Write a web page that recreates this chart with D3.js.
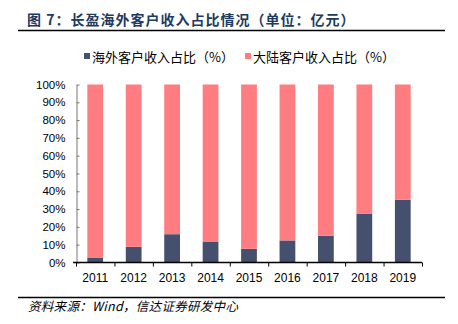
<!DOCTYPE html>
<html>
<head>
<meta charset="utf-8">
<script src="https://cdn.jsdelivr.net/npm/d3@7"></script>
<style>
  body { margin: 0; background: #fff; }
  svg text { font-family: "Liberation Sans", Arial, "Noto Sans CJK SC", sans-serif; }
</style>
</head>
<body>
<svg id="chart" width="458" height="324"></svg>
<script>
// chart data
let years = ["2011", "2012", "2013", "2014", "2015", "2016", "2017", "2018", "2019"];
let overseas = [2.8, 8.8, 15.9, 11.8, 7.7, 12.4, 15.0, 27.3, 35.2];
let mainland = overseas.map(v => 100 - v);
let yTicks = [0, 10, 20, 30, 40, 50, 60, 70, 80, 90, 100];
let seriesNames = ["海外客户收入占比（%）", "大陆客户收入占比（%）"];
let colors = ["#454f6e", "#ff7c80"];

let svg = d3.select("#chart");
let cjk = "'Noto Sans CJK SC', sans-serif";

// title + rules
svg.append("text")
    .attr("x", 27).attr("y", 25)
    .attr("font-size", 14).attr("font-weight", "bold")
    .attr("letter-spacing", 1)
    .attr("fill", "#1f3a60")
    .style("font-family", cjk)
    .text("图 7：长盈海外客户收入占比情况（单位：亿元）");
svg.append("line").attr("x1", 18).attr("x2", 445).attr("y1", 30.5).attr("y2", 30.5)
    .attr("stroke", "#000").attr("stroke-width", 1.3);
svg.append("line").attr("x1", 18).attr("x2", 445).attr("y1", 297.5).attr("y2", 297.5)
    .attr("stroke", "#000").attr("stroke-width", 1.3);
svg.append("text")
    .attr("x", 28).attr("y", 311)
    .attr("font-size", 12.5).attr("font-style", "italic")
    .attr("letter-spacing", 0.3)
    .style("font-family", cjk)
    .text("资料来源：Wind，信达证券研发中心");

// scales
let x = d3.scaleBand().domain(years).range([76, 422]).paddingInner(0.59).paddingOuter(0.295);
let y = d3.scaleLinear().domain([0, 100]).range([262.5, 84.5]);

// stacked bars
let rows = years.map((yr, i) => ({ year: yr, a: overseas[i], b: mainland[i] }));
let stack = d3.stack().keys(["a", "b"])(rows);

svg.selectAll(".series")
    .data(stack)
    .enter().append("g")
    .attr("fill", (d, i) => colors[i])
    .selectAll("rect")
    .data(d => d)
    .enter().append("rect")
    .attr("x", d => x(d.data.year))
    .attr("width", x.bandwidth())
    .attr("y", d => y(d[1]))
    .attr("height", d => y(d[0]) - y(d[1]));

// y axis, ticks point inward
let yAxis = svg.append("g")
    .attr("transform", "translate(76.5,0)")
    .call(d3.axisLeft(y).tickValues(yTicks).tickFormat(d => d + "%")
        .tickSize(-3).tickSizeOuter(0).tickPadding(11));
yAxis.select(".domain").attr("stroke", "#777");
yAxis.selectAll(".tick line").attr("stroke", "#777");
yAxis.selectAll("text").attr("font-size", 11.5).attr("fill", "#000");

// x axis with ticks between categories
let xAxis = svg.append("g").attr("transform", "translate(0,262.5)");
xAxis.append("line").attr("x1", 73).attr("x2", 422).attr("stroke", "#000").attr("stroke-width", 1.3);
let step = x.step();
xAxis.selectAll(".sep")
    .data(d3.range(years.length + 1))
    .enter().append("line")
    .attr("x1", i => 76.5 + i * step).attr("x2", i => 76.5 + i * step)
    .attr("y1", 0).attr("y2", 4)
    .attr("stroke", "#000");
xAxis.selectAll(".lab")
    .data(years)
    .enter().append("text")
    .attr("x", d => x(d) + x.bandwidth() / 2)
    .attr("y", 19)
    .attr("text-anchor", "middle")
    .attr("font-size", 12)
    .text(d => d);

// legend
let legendX = [84, 245];
seriesNames.forEach((name, i) => {
    svg.append("rect").attr("x", legendX[i]).attr("y", 53).attr("width", 6).attr("height", 6)
        .attr("fill", colors[i]);
    svg.append("text").attr("x", legendX[i] + 8).attr("y", 61.5)
        .attr("font-size", 13).style("font-family", cjk)
        .text(name);
});
</script>
</body>
</html>
